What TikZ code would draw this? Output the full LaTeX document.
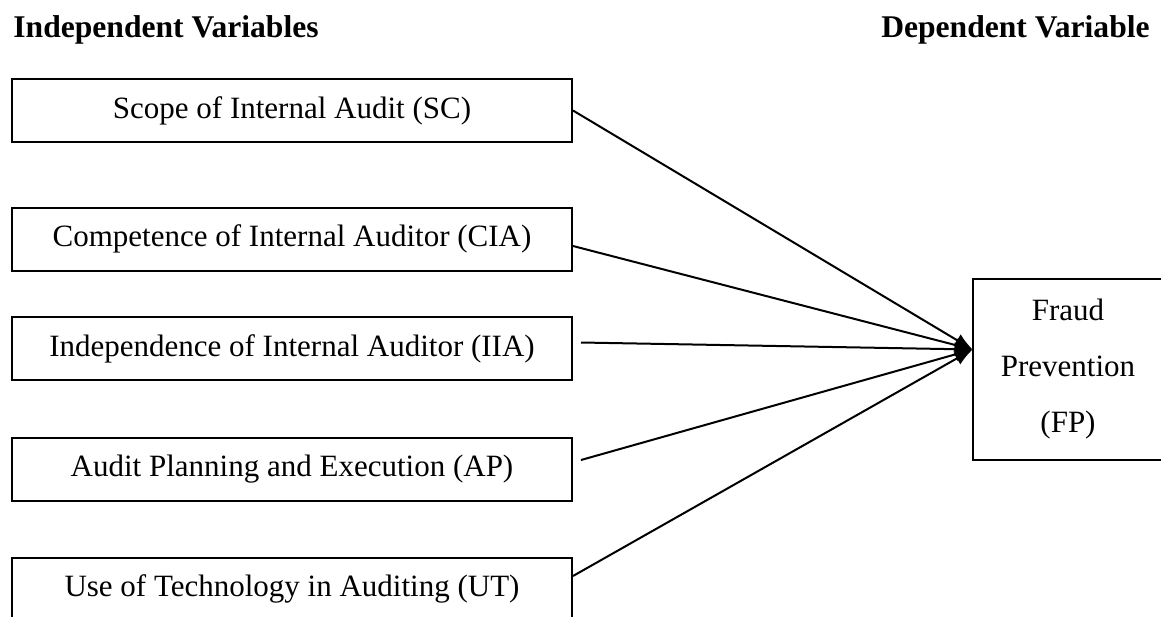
\documentclass[tikz,border=0pt]{standalone}
\usepackage{fontspec}
\setmainfont{Liberation Serif}
\usetikzlibrary{arrows.meta}
\tikzset{
	varbox/.style={draw,line width=1pt,minimum width=280pt,minimum height=31.5pt,inner sep=0pt,font=\fontsize{15.5}{18}\selectfont},
	depbox/.style={minimum width=95pt,minimum height=90.5pt,inner sep=0pt,align=center,font=\fontsize{15.5}{28}\selectfont},
	heading/.style={inner sep=0pt,font=\fontsize{15.8}{18}\selectfont\bfseries},
	link/.style={line width=1pt,-{Latex[length=9pt,width=7pt]}}
}
\begin{document}
\begin{tikzpicture}[x=0.5pt,y=-0.5pt]
	\useasboundingbox(0,0)rectangle(1161,616);
	\clip(0,0)rectangle(1161,616);
	\node[heading,anchor=base west](indep)at(13,37){Independent Variables};
	\node[heading,anchor=base east](dep)at(1150,37){Dependent Variable};
	\node[varbox](sc)at(292,110.5){Scope of Internal Audit (SC)};
	\node[varbox](cia)at(292,239){Competence of Internal Auditor (CIA)};
	\node[varbox](iia)at(292,348.5){Independence of Internal Auditor (IIA)};
	\node[varbox](ap)at(292,469){Audit Planning and Execution (AP)};
	\node[varbox](ut)at(292,589){Use of Technology in Auditing (UT)};
	\node[depbox](fp)at(1068,369.5){Fraud\\Prevention\\(FP)};
	\draw[line width=1pt]([xshift=20pt]fp.north east)--(fp.north west)--(fp.south west)--([xshift=20pt]fp.south east);
	\coordinate(tip)at([yshift=10pt]fp.west);
	\draw[link](sc.east)--(tip);
	\draw[link]([yshift=-3.5pt]cia.east)--(tip);
	\draw[link]([shift={(4pt,3pt)}]iia.east)--(tip);
	\draw[link]([shift={(4pt,4.5pt)}]ap.east)--(tip);
	\draw[link]([yshift=6.5pt]ut.east)--(tip);
\end{tikzpicture}
\end{document}
